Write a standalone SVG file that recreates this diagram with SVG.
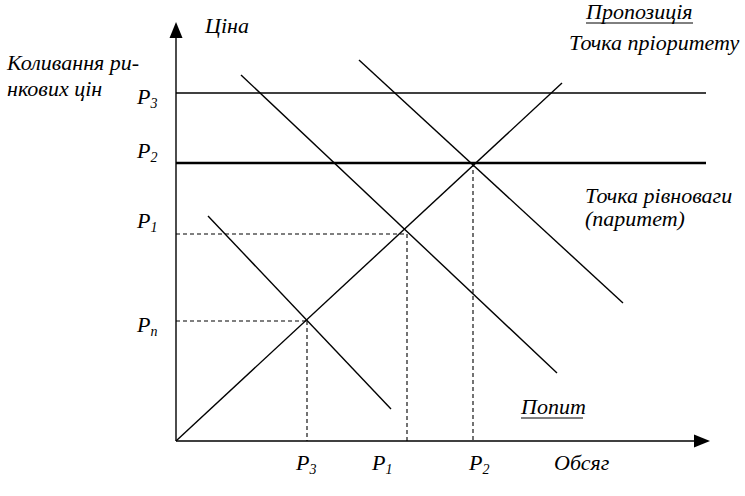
<svg xmlns="http://www.w3.org/2000/svg" width="745" height="496" viewBox="0 0 745 496">
<defs>
<style>
.t{font-family:"Liberation Serif","DejaVu Serif",serif;font-style:italic;font-size:22px;fill:#000}
.s{font-size:14px}
.ln{stroke:#000;stroke-width:1.4;fill:none}
.thick{stroke:#000;stroke-width:2.6;fill:none}
.dash{stroke:#000;stroke-width:1.1;stroke-dasharray:4 3;fill:none}
</style>
</defs>
<rect width="745" height="496" fill="#fff"/>
<g id="connectors">
<line class="ln" x1="176" y1="441" x2="176" y2="34"/>
<polygon points="176,22 169.5,38 182.5,38" fill="#000"/>
<line class="ln" x1="176" y1="441" x2="698" y2="441"/>
<polygon points="710,441 694,434.5 694,447.5" fill="#000"/>
<line class="ln" x1="176" y1="93" x2="706" y2="93"/>
<line class="thick" x1="176" y1="163" x2="706" y2="163"/>
<line class="dash" x1="176" y1="234" x2="407" y2="234"/>
<line class="dash" x1="176" y1="321" x2="307" y2="321"/>
<line class="dash" x1="307" y1="321" x2="307" y2="441"/>
<line class="dash" x1="407" y1="234" x2="407" y2="441"/>
<line class="dash" x1="473" y1="163" x2="473" y2="441"/>
<line class="ln" x1="176" y1="441" x2="562" y2="83"/>
<line class="ln" x1="208" y1="216" x2="391" y2="409"/>
<line class="ln" x1="241" y1="75" x2="557" y2="373"/>
<line class="ln" x1="359" y1="60" x2="623" y2="303"/>
</g>
<g id="title-left">
<text class="t" x="7" y="70" font-size="21.5">Коливання ри-</text>
<text class="t" x="7" y="96" font-size="21.5">нкових цін</text>
</g>
<g id="axis-y-label"><text class="t" x="205" y="33">Ціна</text></g>
<g id="axis-x-label"><text class="t" x="554" y="470">Обсяг</text></g>
<g id="supply-label">
<text class="t" x="586" y="19">Пропозиція</text>
<line x1="586" y1="23" x2="693" y2="23" stroke="#000" stroke-width="1"/>
</g>
<g id="priority-label"><text class="t" x="569" y="50">Точка пріоритету</text></g>
<g id="equilibrium-label">
<text class="t" x="585" y="203">Точка рівноваги</text>
<text class="t" x="585" y="226">(паритет)</text>
</g>
<g id="demand-label">
<text class="t" x="521" y="414">Попит</text>
<line x1="521" y1="418" x2="583" y2="418" stroke="#000" stroke-width="1"/>
</g>
<g id="price-labels">
<text class="t" x="137" y="104">P<tspan class="s" dy="4">3</tspan></text>
<text class="t" x="137" y="158">P<tspan class="s" dy="4">2</tspan></text>
<text class="t" x="137" y="228">P<tspan class="s" dy="4">1</tspan></text>
<text class="t" x="137" y="332">P<tspan class="s" dy="4">n</tspan></text>
</g>
<g id="volume-labels">
<text class="t" x="296" y="470">P<tspan class="s" dy="4">3</tspan></text>
<text class="t" x="372" y="470">P<tspan class="s" dy="4">1</tspan></text>
<text class="t" x="469" y="470">P<tspan class="s" dy="4">2</tspan></text>
</g>
</svg>
